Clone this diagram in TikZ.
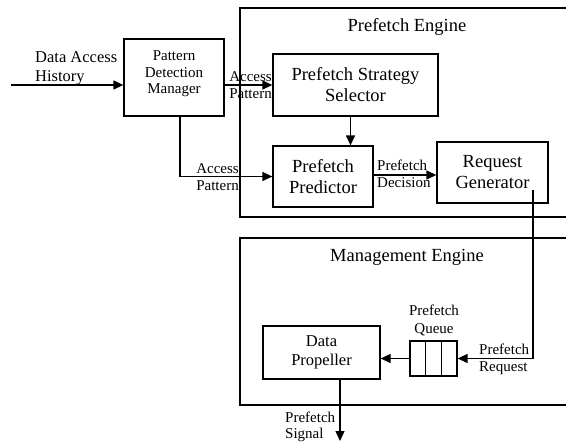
\documentclass[tikz,border=0pt]{standalone}
\usepackage{fontspec}
\setmainfont{Liberation Serif}
\usetikzlibrary{arrows.meta,calc}
\begin{document}
\begin{tikzpicture}[x=1pt,y=-1pt,
  box/.style={draw,line width=1.3pt,inner sep=0pt,align=center},
  arr/.style={line width=1.3pt,-{Triangle[length=10pt,width=9pt]}},
  conn/.style={line width=1.3pt},
  big/.style={font=\fontsize{18.5}{21}\selectfont},
  mid/.style={font=\fontsize{16.5}{19}\selectfont},
  small/.style={font=\fontsize{15}{17.5}\selectfont},
  lbl/.style={inner sep=0pt,align=center},
]
\useasboundingbox (0,0) rectangle (566,442);
% containers
\draw[conn] (566,8) -- (240,8) -- (240,217) -- (566,217);
\draw[conn] (566,238) -- (240,238) -- (240,405) -- (566,405);
\node[lbl,big] (pe) at (407,27) {Prefetch Engine};
\node[lbl,big] (me) at (407,257) {Management Engine};
% boxes
\node[box,minimum width=100pt,minimum height=77pt] (pdm) at (174,77.5) {};
\node[lbl,font=\fontsize{15}{16.5}\selectfont] (pdmt) at ([yshift=3.5pt]pdm.center) {Pattern\\Detection\\Manager};
\node[box,big,minimum width=165pt,minimum height=62pt] (sel) at (355.5,85) {Prefetch Strategy\\Selector};
\node[box,big,minimum width=100pt,minimum height=61pt] (pred) at (323,176.5) {Prefetch\\Predictor};
\node[box,big,minimum width=111pt,minimum height=61pt] (rg) at (492.5,172.5) {Request\\Generator};
\node[box,mid,minimum width=117pt,minimum height=53pt] (dp) at (321.5,352.5) {Data\\Propeller};
\node[box,minimum width=47pt,minimum height=35pt] (q) at (433.5,358.5) {};
\draw[line width=1.7pt] ($(q.north west)!1/3!(q.north east)$) -- ($(q.south west)!1/3!(q.south east)$);
\draw[line width=1.7pt] ($(q.north west)!2/3!(q.north east)$) -- ($(q.south west)!2/3!(q.south east)$);
% labels
\node[lbl,mid,align=left,anchor=west] (dah) at (35,68.5) {Data Access\\History};
\node[lbl,small] (ap1) at (250.5,85) {Access\\Pattern};
\node[lbl,small] (ap2) at (217.5,177) {Access\\Pattern};
\node[lbl,small,align=left,anchor=west] (pd) at (377,174) {Prefetch\\Decision};
\node[lbl,small] (pq) at (434,320.5) {Prefetch\\Queue};
\node[lbl,small,align=left,anchor=west] (pr) at (479,359.5) {Prefetch\\Request};
\node[lbl,font=\fontsize{15}{16}\selectfont,align=left,anchor=west] (ps) at (285,427) {Prefetch\\Signal};
% connectors
\coordinate (dahs) at (11,85);
\draw[arr] (dahs) -- (dahs -| pdm.west);
\draw[arr] (sel.west -| pdm.east) -- (sel.west);
\draw[arr] ([xshift=-5pt]sel.south) -- ([xshift=-5pt]sel.south |- pred.north);
\draw[arr] ([xshift=6pt]pdm.south) |- (pred.west);
\draw[arr] ([yshift=1.5pt]pred.east) -- ([yshift=1.5pt]pred.east -| rg.west);
\coordinate (rgtap) at (533,190);
\draw[arr] (rgtap) |- (q.east);
\draw[arr] (q.west) -- (q.west -| dp.east);
\coordinate (sigend) at (340,441);
\draw[arr] (sigend |- dp.south) -- (sigend);
\end{tikzpicture}
\end{document}
